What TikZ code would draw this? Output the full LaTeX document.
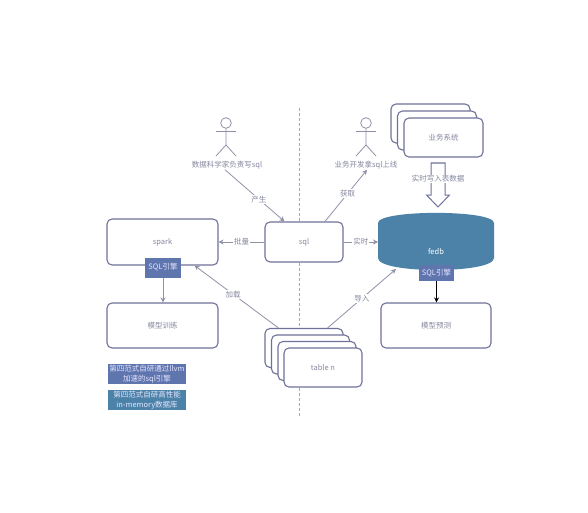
\documentclass[tikz,border=0pt]{standalone}
\usepackage{fontspec}
\setmainfont{Noto Sans CJK SC}
\usetikzlibrary{arrows.meta,calc}
\definecolor{edgeC}{HTML}{6F7299}
\definecolor{txtC}{HTML}{85889F}
\definecolor{lineC}{HTML}{8F92A6}
\definecolor{tealC}{HTML}{4C82A8}
\definecolor{engC}{HTML}{5F75AE}
\tikzset{
  every node/.style={font=\fontsize{7.5}{9}\selectfont,text=txtC,inner sep=0pt},
  card/.style={draw=edgeC,line width=1.1pt,fill=white,rounded corners=5pt,minimum width=#1},
  card/.default=78pt,
  conn/.style={draw=lineC,line width=0.8pt,-{Stealth[length=5pt,width=5pt,fill=edgeC]}},
  tag/.style={fill=white,inner sep=1pt},
  chip/.style={fill=#1,text=white!90!blue,align=center,font=\fontsize{7.5}{9.5}\selectfont},
  limb/.style={draw=lineC,line width=0.8pt},
}
\begin{document}
\begin{tikzpicture}[x=1pt,y=-1pt]
\useasboundingbox (0,0) rectangle (588,513);
\fill[white] (0,0) rectangle (588,513);
\coordinate (dashtop) at (299,108);
\coordinate (dashbot) at (299,418);
\draw[lineC!80,line width=0.5pt,densely dashed] (dashtop) -- (dashbot);

% actors
\coordinate (ah1) at (226,123);
\coordinate (ah2) at (366,123);
\foreach \a in {ah1,ah2}{
  \draw[limb] (\a) circle (5.3);
  \draw[limb] ($(\a)+(0,5.3)$) -- ($(\a)+(0,22)$) -- ($(\a)+(-10,33)$);
  \draw[limb] ($(\a)+(0,22)$) -- ($(\a)+(10,33)$);
  \draw[limb] ($(\a)+(-10,8)$) -- ($(\a)+(10,8)$);
}
\node (dsl) at (227,165) {数据科学家负责写sql};
\node (bizl) at (366,165) {业务开发拿sql上线};

% boxes
\node[card=111pt,minimum height=46pt] (spark) at (162.5,242) {spark};
\node[card=78pt,minimum height=40pt] (sql) at (304,242) {sql};
\node[card=111pt,minimum height=45pt] (train) at (162.5,325.5) {模型训练};
\node[card=110pt,minimum height=45pt] (pred) at (436,325.5) {模型预测};

% business stack
\node[card=79pt,minimum height=39pt] (b1) at (430.5,123.5) {};
\node[card=79pt,minimum height=39pt] (b2) at (437,130.5) {};
\node[card=79pt,minimum height=39pt] (biz) at (443.5,137.5) {业务系统};

% table stack
\node[card=78pt,minimum height=39pt] (t1) at (304,348) {};
\node[card=78pt,minimum height=39pt] (t2) at (310.5,354.5) {};
\node[card=78pt,minimum height=39pt] (t3) at (317,361) {};
\node[card=78pt,minimum height=39pt] (tn) at (323,367.5) {table n};

% fedb
\fill[tealC] (378,223) .. controls (378,209.5) and (494,209.5) .. (494,223)
  -- (494,258) .. controls (494,274) and (378,274) .. (378,258) -- cycle;
\node[text=white] (fedb) at (436,252) {fedb};

% engines
\node[chip=engC,minimum width=36pt,minimum height=20pt] (eng1) at (163,267.5) {SQL引擎};
\node[chip=engC,minimum width=35pt,minimum height=16pt] (eng2) at (436.5,273) {SQL引擎};

% legend
\node[chip=engC,minimum width=78pt,minimum height=20pt] (leg1) at (147,374) {第四范式自研通过llvm\\加速的sql引擎};
\node[chip=tealC,minimum width=78pt,minimum height=20pt] (leg2) at (147,400) {第四范式自研高性能\\in-memory数据库};

% connectors
\draw[conn] ($(dsl.south)+(-2,0.5)$) -- ($(sql.north west)+(20,0)$) node[pos=.57,tag] {产生};
\draw[conn] (sql.west) -- (spark.east) node[midway,tag] {批量};
\draw[conn] (sql.east) -- (378,242) coordinate (fedbw) node[midway,tag] {实时};
\draw[conn] ($(sql.north)+(21,0)$) -- ($(bizl.south)+(1,0.5)$) node[pos=.54,tag] {获取};
\draw[conn] ($(t1.north west)+(14,0)$) -- ($(spark.south east)+(-24,0)$) node[pos=.54,tag] {加载};
\draw[conn] ($(t1.north east)+(-16,0)$) -- (396,269) node[midway,tag] {导入};
\draw[conn] (eng1.south) -- (eng1.south |- train.north);
\draw[line width=0.8pt,black,-{Stealth[length=5pt,width=5pt]}] (eng2.south) -- (eng2.south |- pred.north);

% big arrow
\draw[edgeC,line width=1pt,fill=white] (431,163) -- (445,163) -- (445,195) -- (449.5,195) -- (438,207) -- (426.5,195) -- (431,195) -- cycle;
\node[tag] (wr) at (438,179) {实时写入表数据};
\end{tikzpicture}
\end{document}
